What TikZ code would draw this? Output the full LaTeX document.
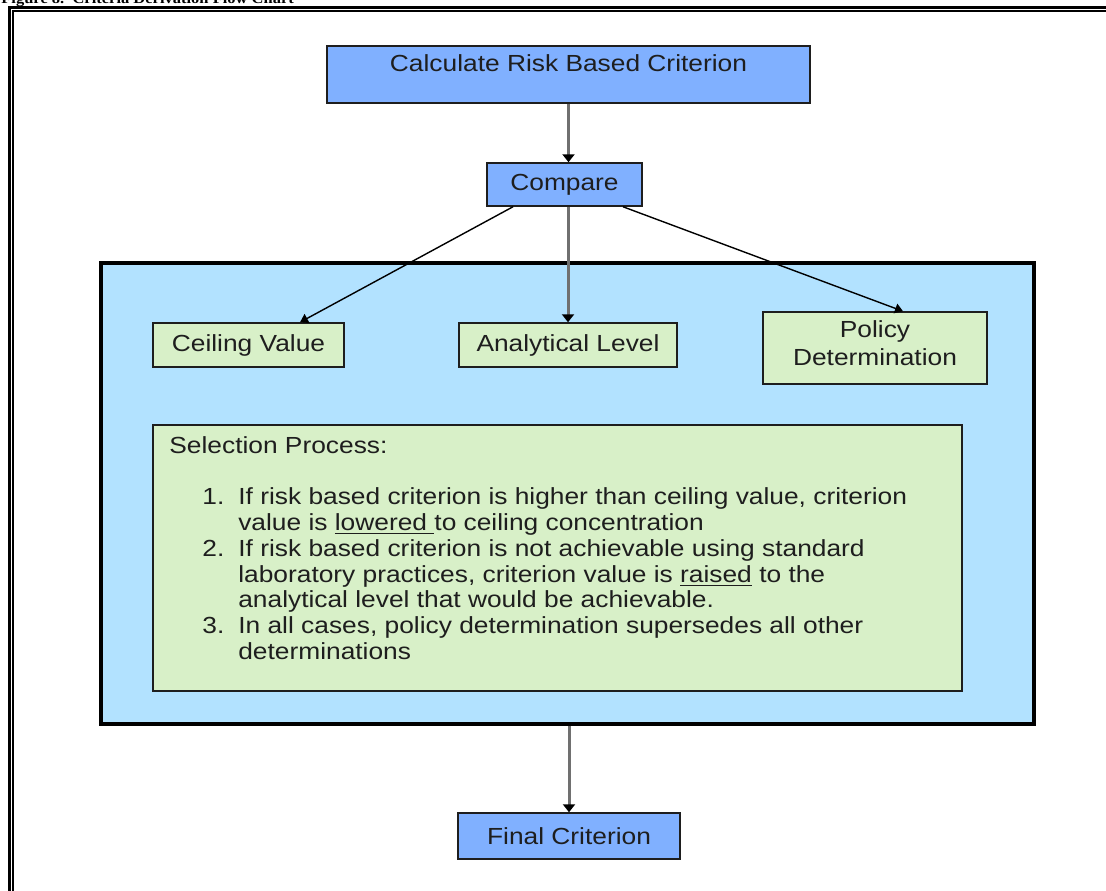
\documentclass[tikz,border=0pt]{standalone}
\usepackage{fontspec}
\setmainfont{Liberation Sans}
\newfontfamily\titlefont{Liberation Serif}
\usepackage{graphicx}
\usetikzlibrary{arrows.meta,calc}
\definecolor{topblue}{RGB}{128,176,255}
\definecolor{panelblue}{RGB}{178,226,255}
\definecolor{boxgreen}{RGB}{216,240,200}
\definecolor{inkgray}{RGB}{30,30,30}
\definecolor{shaftgray}{RGB}{112,112,112}
\newcommand{\hs}[1]{\scalebox{1.13}[1]{#1}}
\begin{document}
\begin{tikzpicture}[x=0.5pt,y=-0.5pt,
  every node/.style={font=\fontsize{11.65}{12.85}\selectfont, text=inkgray},
  bluebox/.style={draw=inkgray, line width=0.75pt, fill=topblue, inner sep=0pt},
  greenbox/.style={draw=inkgray, line width=0.75pt, fill=boxgreen, inner sep=0pt},
  panel/.style={draw=black, line width=1.75pt, fill=panelblue, inner sep=0pt},
  flow/.style={draw=shaftgray, line width=1.5pt, -{Triangle[length=4pt,width=6pt,black]}},
  branch/.style={draw=black, line width=0.7pt, -{Triangle[length=4pt,width=5pt,black]}},
  frameline/.style={draw=black}
]
\useasboundingbox[fill=white] (0,0) rectangle (1106,890);

% page frame (double rule) running off the page
\draw[frameline, line width=1.25pt] (9.3,7.6) rectangle (1400,1200);
\draw[frameline, line width=0.85pt] (13,11.2) rectangle (1400,1200);

% cut-off caption
\node[anchor=base west, inner sep=0pt, font=\titlefont\bfseries\fontsize{7.3}{9}\selectfont, text=black]
  (title) at (1,3) {\hs{Figure 8.\ \ Criteria Derivation Flow Chart}};

% top boxes
\node[bluebox, minimum width=241.5pt, minimum height=28.5pt, text height=9pt, text depth=12.2pt]
  (calc) at (568.5,74.5) {\hs{Calculate Risk Based Criterion}};
\node[bluebox, minimum width=77.5pt, minimum height=21.5pt]
  (compare) at (564.5,184.5) {\hs{Compare}\hspace{7pt}};

% panel
\node[panel, minimum width=466.5pt, minimum height=230.5pt] (panel) at (567.5,493.5) {};

\node[greenbox, minimum width=95.5pt, minimum height=22pt] (ceiling) at (248.5,345) {\hs{Ceiling Value}};
\node[greenbox, minimum width=109pt, minimum height=22pt] (analytical) at (568,345) {\hs{Analytical Level}};
\node[greenbox, minimum width=112pt, minimum height=36pt, align=center, text depth=5pt] (policy) at (875,348)
  {\hs{Policy}\\[0.7pt]\hs{Determination}};

\node[greenbox, minimum width=404.5pt, minimum height=133pt] (selection) at (557.5,558) {};
\node[anchor=base west, inner sep=0pt] (seltext) at (169,453.5) {\hs{\begin{tabular}[t]{@{\hspace{14.6pt}}p{15.9pt}@{}l@{}}
\multicolumn{2}{@{}l@{}}{Selection Process:}\\
 & \\
1. & If risk based criterion is higher than ceiling value, criterion\\
 & value is \underline{lowered\ }to ceiling concentration\\
2. & If risk based criterion is not achievable using standard\\
 & laboratory practices, criterion value is \underline{raised} to the\\
 & analytical level that would be achievable.\\
3. & In all cases, policy determination supersedes all other\\
 & determinations
\end{tabular}}};

% final box
\node[bluebox, minimum width=111pt, minimum height=23pt] (final) at (569,836) {\hs{Final Criterion}};

% connectors
\draw[flow] (calc.south) -- (calc.south |- compare.north);
\draw[branch] ([xshift=-25.75pt]compare.south) -- ([xshift=25.75pt]ceiling.north);
\draw[flow] (analytical.north |- compare.south) -- (analytical.north);
\draw[branch] ([xshift=29.25pt]compare.south) -- ([xshift=14pt]policy.north);
\draw[flow] (final.north |- panel.south) -- (final.north);
\end{tikzpicture}
\end{document}
